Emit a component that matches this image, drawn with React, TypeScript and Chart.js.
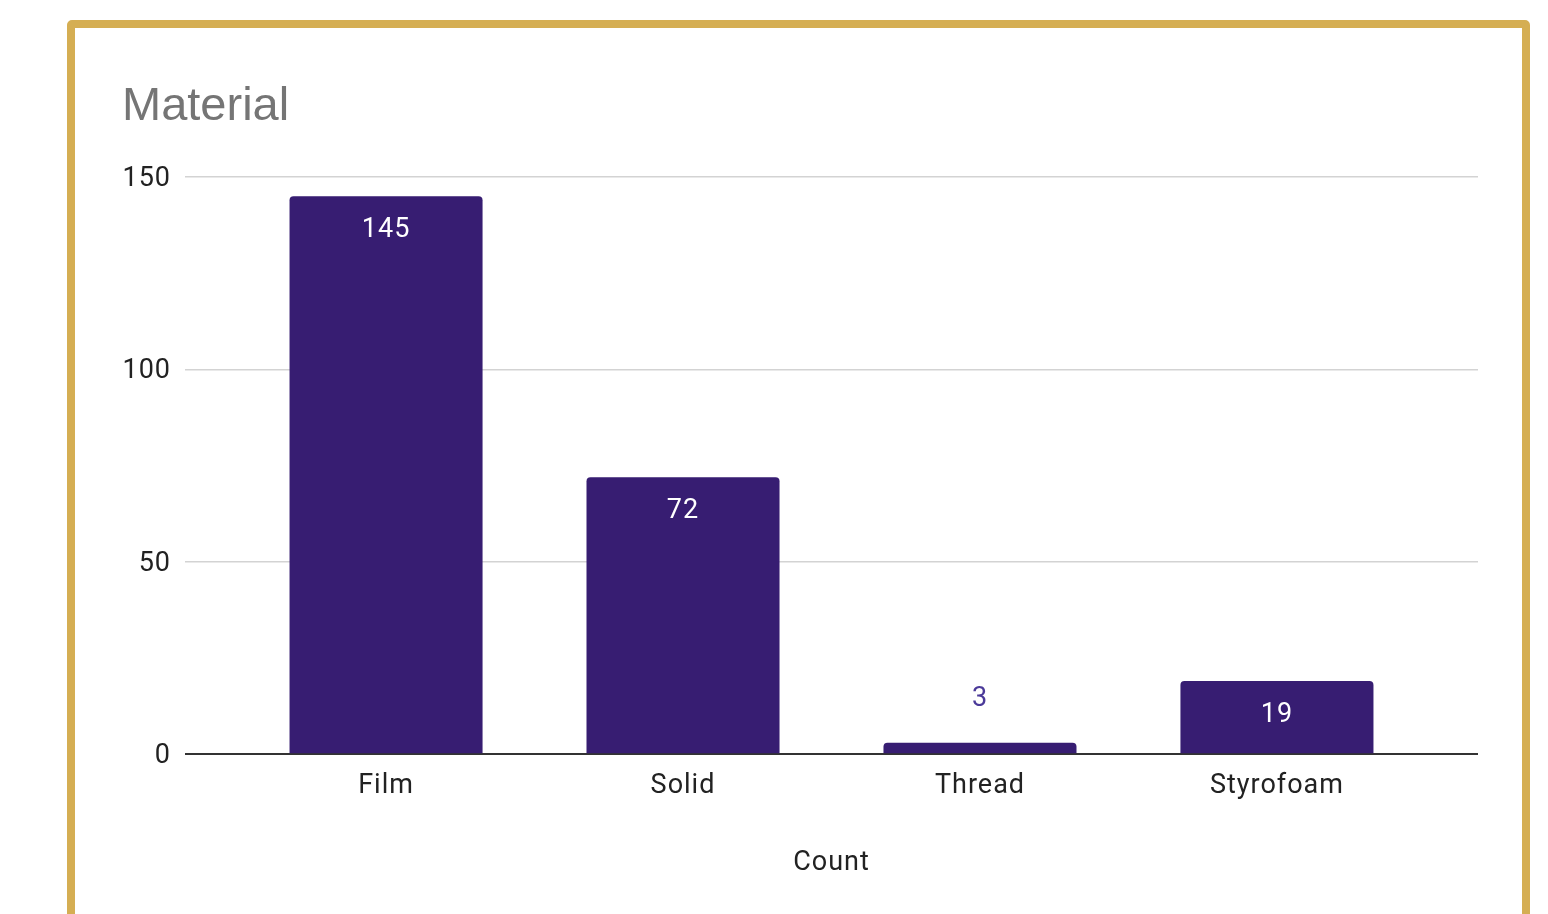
import React, { useEffect, useRef } from "react";
import { Chart, registerables } from "chart.js";

Chart.register(...registerables);

const chartTitle = "Material";
const axisTitle = "Count";
const categories = ["Film", "Solid", "Thread", "Styrofoam"];
const counts = [145, 72, 3, 19];
const yTicks = [0, 50, 100, 150];

const BAR_COLOR = "#371D72";
const OUT_LABEL_COLOR = "#4B3A99";

const spacing = {
  id: "spacing",
  beforeDraw(chart: any) {
    chart.ctx.letterSpacing = "1px";
  },
  afterDraw(chart: any) {
    const ctx = chart.ctx;
    ctx.save();
    ctx.letterSpacing = "0px";
    ctx.font = "47px 'Liberation Sans', Arial, sans-serif";
    ctx.fillStyle = "#757575";
    ctx.textAlign = "left";
    ctx.textBaseline = "alphabetic";
    ctx.fillText(chartTitle, 47, 92);
    ctx.restore();
  },
};

const dataLabels = {
  id: "dataLabels",
  afterDatasetsDraw(chart: any) {
    const ctx = chart.ctx;
    const meta = chart.getDatasetMeta(0);
    ctx.save();
    ctx.font = "27px Roboto";
    ctx.textAlign = "center";
    ctx.textBaseline = "middle";
    meta.data.forEach((bar: any, i: number) => {
      const v = counts[i];
      const h = bar.base - bar.y;
      if (h > 45) {
        ctx.fillStyle = "#ffffff";
        ctx.fillText(String(v), bar.x, bar.y + 34);
      } else {
        ctx.fillStyle = OUT_LABEL_COLOR;
        ctx.fillText(String(v), bar.x, bar.y - 43);
      }
    });
    ctx.restore();
  },
};

export default function App() {
  const ref = useRef<HTMLCanvasElement | null>(null);
  useEffect(() => {
    if (!ref.current) return;
    const chart = new Chart(ref.current, {
      type: "bar",
      data: {
        datasets: [
          {
            label: axisTitle,
            data: counts.map((v, i) => ({ x: i, y: v })),
            backgroundColor: BAR_COLOR,
            borderRadius: { topLeft: 4, topRight: 4, bottomLeft: 0, bottomRight: 0 },
            borderSkipped: "bottom",
            barPercentage: 0.65,
            categoryPercentage: 1,
          },
        ],
      },
      options: {
        animation: false,
        responsive: false,
        devicePixelRatio: 1,
        layout: { padding: { left: 47, right: 44, top: 149, bottom: 35 } },
        plugins: {
          legend: { display: false },
          tooltip: { enabled: false },
          title: { display: false },
        },
        scales: {
          x: {
            type: "linear",
            offset: false,
            min: -0.677,
            max: 3.677,
            afterBuildTicks(scale: any) {
              scale.ticks = categories.map((_, i) => ({ value: i }));
            },
            grid: { display: false, drawTicks: false },
            border: { display: false },
            ticks: {
              color: "#222222",
              font: { family: "Roboto", size: 27 },
              padding: 16,
              callback: (v: any) => categories[Number(v)] ?? "",
            },
            title: {
              display: true,
              text: axisTitle,
              color: "#222222",
              font: { family: "Roboto", size: 27 },
              padding: { top: 28, bottom: 0 },
            },
          },
          y: {
            min: 0,
            max: 150,
            afterBuildTicks(scale: any) {
              scale.ticks = yTicks.map((v) => ({ value: v }));
            },
            afterFit(scale: any) {
              scale.width = 63;
            },
            grid: {
              drawTicks: false,
              color: (c: any) => (c.tick && c.tick.value === 0 ? "#333333" : "#d3d3d3"),
              lineWidth: (c: any) => (c.tick && c.tick.value === 0 ? 2 : 1.5),
            },
            border: { display: false },
            ticks: {
              color: "#222222",
              font: { family: "Roboto", size: 27 },
              padding: 14,
              labelOffset: 2,
            },
          },
        },
      },
      plugins: [spacing, dataLabels],
    });
    return () => chart.destroy();
  }, []);

  return (
    <div style={{ position: "relative", width: 1532, height: 906, overflow: "hidden" }}>
      <div
        style={{
          position: "absolute",
          left: 59,
          top: 12,
          width: 1463,
          height: 1000,
          border: "8px solid #D5AE53",
          borderRadius: 5,
          boxSizing: "border-box",
        }}
      />
      <canvas
        ref={ref}
        width={1447}
        height={886}
        style={{ position: "absolute", left: 67, top: 20, width: 1447, height: 886 }}
      />
    </div>
  );
}
